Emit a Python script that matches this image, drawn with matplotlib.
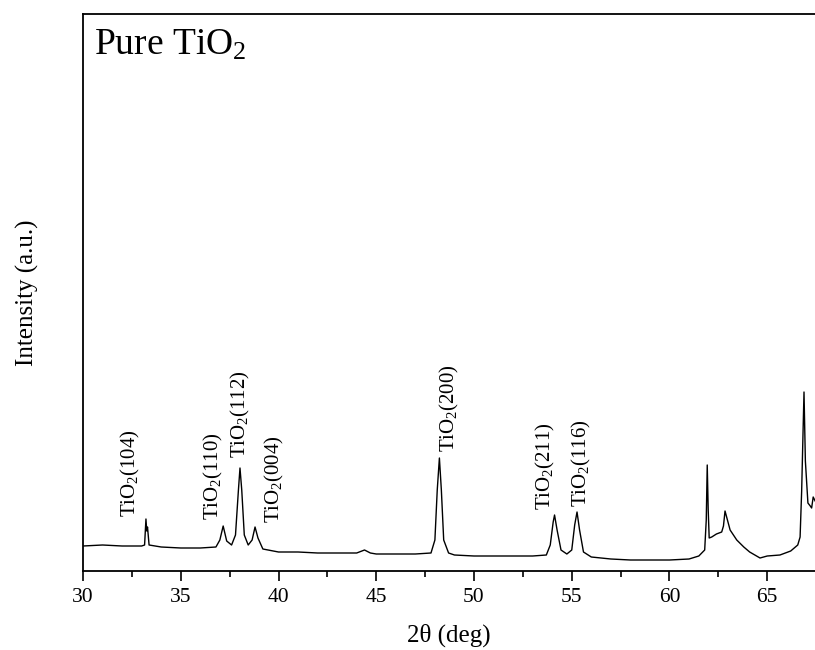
import numpy as np
import matplotlib
matplotlib.use("Agg")
import matplotlib.pyplot as plt

plt.rcParams['font.family'] = ['Liberation Serif', 'DejaVu Serif']
plt.rcParams['mathtext.fontset'] = 'custom'
plt.rcParams['mathtext.rm'] = 'Liberation Serif'
plt.rcParams['mathtext.it'] = 'Liberation Serif:italic'

# XRD trace (2theta in deg, intensity in a.u.)
two_theta = [30.0, 31.0, 32.0, 33.0, 33.15, 33.22, 33.26, 33.3, 33.38, 34.0,
             35.0, 36.0, 36.8, 37.0, 37.17, 37.35, 37.6, 37.8, 37.95, 38.03,
             38.12, 38.25, 38.45, 38.65, 38.8, 38.95, 39.2, 40.0, 41.0, 42.0,
             43.0, 44.0, 44.4, 44.7, 45.0, 46.0, 47.0, 47.8, 48.0, 48.12,
             48.23, 48.33, 48.45, 48.7, 49.0, 50.0, 51.0, 52.0, 53.0, 53.7,
             53.9, 54.05, 54.12, 54.25, 54.45, 54.75, 55.0, 55.15, 55.27, 55.4,
             55.6, 56.0, 57.0, 58.0, 59.0, 60.0, 61.0, 61.5, 61.8, 61.88,
             61.93, 61.98, 62.03, 62.16, 62.4, 62.67, 62.76, 62.84, 62.95, 63.1,
             63.44, 63.8, 64.1, 64.63, 65.0, 65.65, 66.2, 66.56, 66.68, 66.76,
             66.82, 66.88, 66.95, 67.08, 67.2, 67.27, 67.35, 67.45]
intensity = [25, 26, 25, 25, 26, 52, 40, 44, 26, 24,
             23, 23, 24, 31, 45, 30, 26, 36, 81, 103,
             81, 36, 26, 31, 44, 33, 22, 19, 19, 18,
             18, 18, 21, 18, 17, 17, 17, 18, 31, 81,
             113, 81, 31, 18, 16, 15, 15, 15, 15, 16,
             26, 49, 56, 41, 21, 17, 21, 46, 59, 41,
             19, 14, 12, 11, 11, 11, 12, 15, 21, 51,
             106, 61, 33, 34, 37, 39, 45, 60, 52, 41,
             31, 24, 19, 13, 15, 16, 20, 26, 34, 80,
             130, 179, 110, 68, 65, 63, 74, 70]

# peak labels: (hkl, position, bottom of text)
peak_hkl = ['(104)', '(110)', '(112)', '(004)', '(200)', '(211)', '(116)']
label_x = [32.45, 36.65, 38.06, 39.8, 48.73, 53.66, 55.52]
label_y = [54, 51, 113, 48, 119, 61, 64]

fig = plt.figure(figsize=(8.15, 6.5), dpi=100)
ax = fig.add_axes([83 / 815, 1 - 571 / 650, 1 - 83 / 815, (571 - 14) / 650])

ax.plot(two_theta, intensity, color='black', linewidth=1.0)

for hkl, lx, ly in zip(peak_hkl, label_x, label_y):
    ax.text(lx, ly, 'TiO$_2$' + hkl, rotation=90, ha='center', va='bottom',
            fontsize=15)

ax.text(0.015, 0.975, 'Pure TiO$_2$', transform=ax.transAxes, fontsize=27,
        ha='left', va='top')

ax.set_xlim(30, 30 + (815 - 83) / 19.55)
ax.set_ylim(0, 557)
ax.set_xticks([30, 35, 40, 45, 50, 55, 60, 65])
ax.set_xticks(np.arange(32.5, 67.5, 5), minor=True)
ax.set_yticks([])
ax.tick_params(axis='x', which='major', direction='out', length=7, width=1.2,
               labelsize=15.5, pad=5, top=False)
ax.tick_params(axis='x', which='minor', direction='out', length=4, width=1.2,
               top=False)
ax.spines['right'].set_visible(False)
for s in ['left', 'bottom', 'top']:
    ax.spines[s].set_linewidth(1.3)

ax.set_xlabel('2θ (deg)', fontsize=18, labelpad=12)
ax.set_ylabel('Intensity (a.u.)', fontsize=18, labelpad=32)

fig.savefig('out.png', dpi=100)
